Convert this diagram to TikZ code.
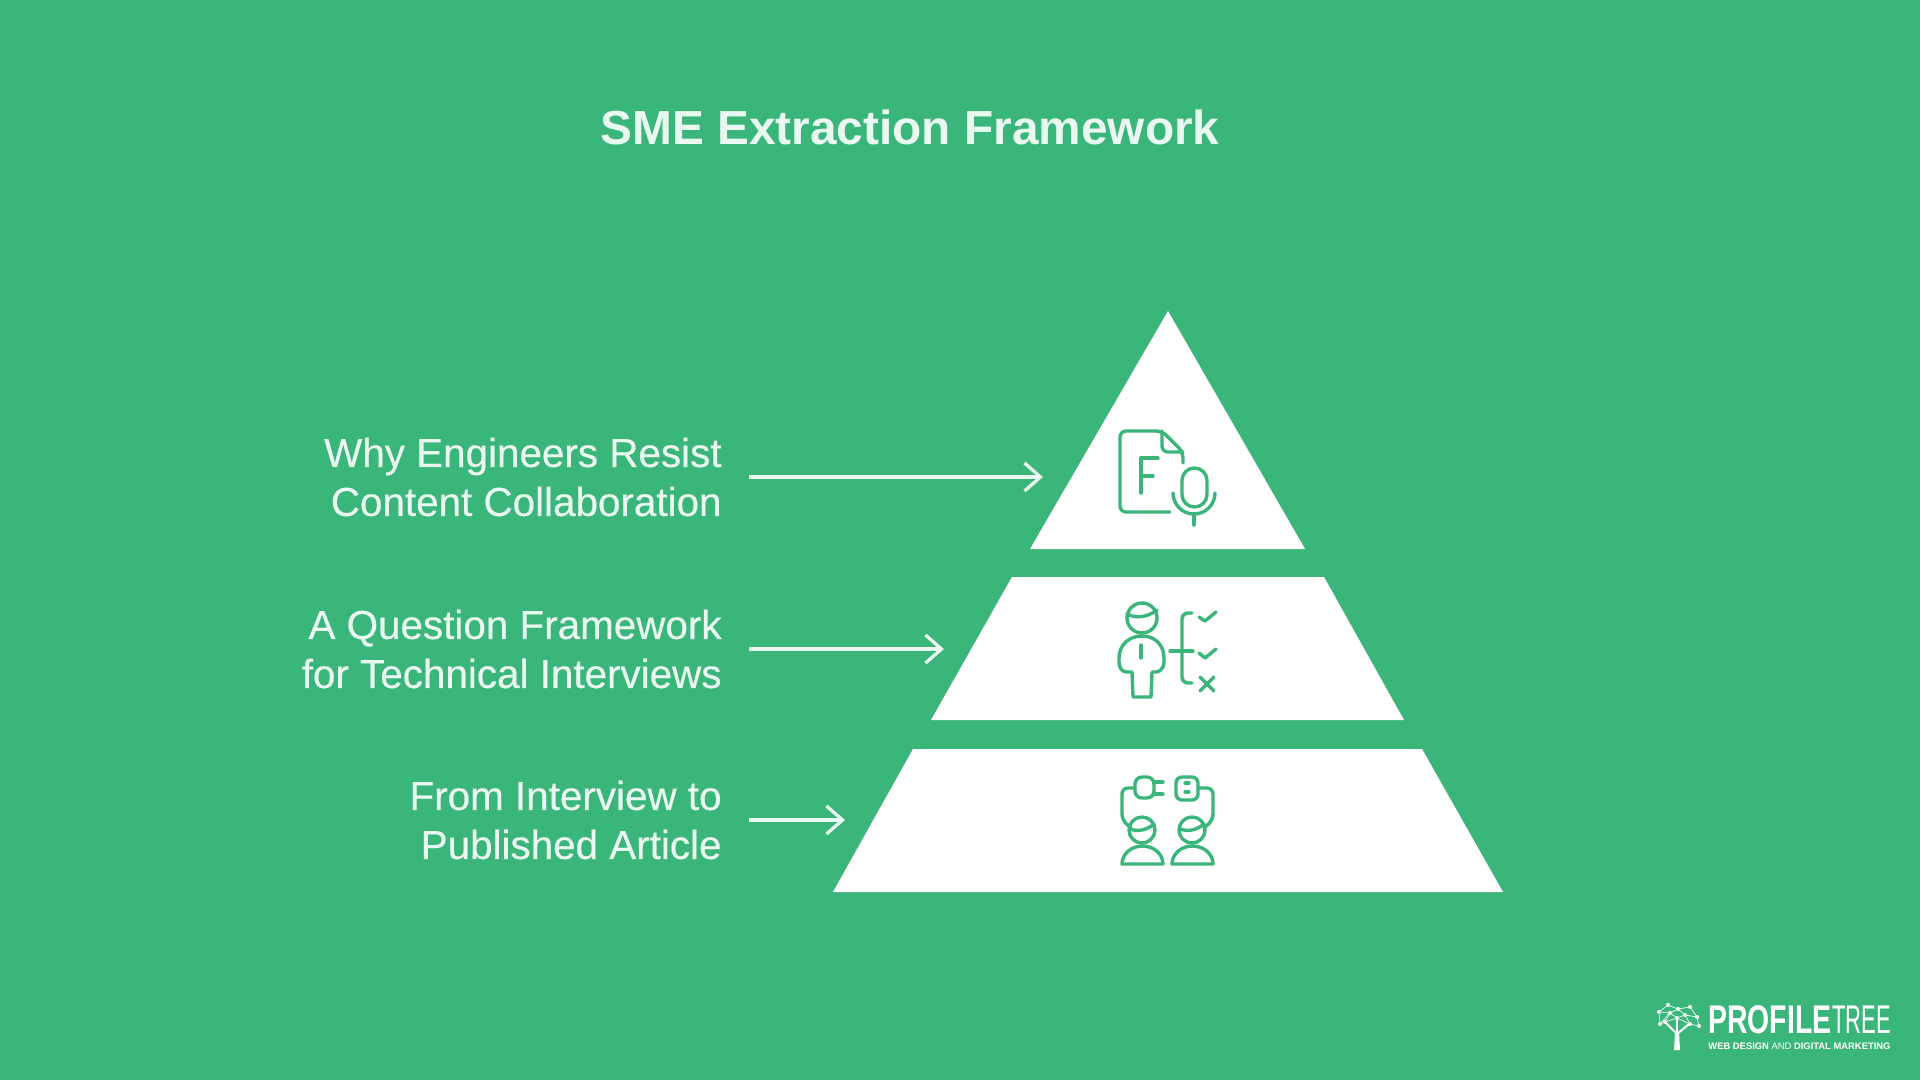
\documentclass[tikz,border=0pt]{standalone}
\usepackage{fontspec}
\usetikzlibrary{arrows.meta}
\setmainfont{Liberation Sans}
\newfontfamily\bodyfont[FakeBold=0.4]{Liberation Sans}
\newfontfamily\boldlogofont[FakeStretch=0.71]{Liberation Sans Bold}
\newfontfamily\thinlogofont[FakeStretch=0.55]{Liberation Sans}
\definecolor{leafgreen}{HTML}{3AB67A}
\definecolor{softwhite}{HTML}{E9F8F0}
\tikzset{
  tier/.style={fill=white},
  iconline/.style={draw=leafgreen,line width=1.7pt,line cap=round,line join=round,rounded corners=3pt},
  logoline/.style={draw=white!85!leafgreen,line width=.4pt},
  label/.style={text=softwhite,font=\bodyfont\fontsize{20.2}{24.5}\selectfont,align=right,anchor=east,inner xsep=13.5pt,inner ysep=0pt},
  pointer/.style={draw=softwhite,line width=1.65pt,-{Straight Barb[length=8pt,width=14pt,line width=1.65pt]}}
}
\begin{document}
\begin{tikzpicture}[x=0.5pt,y=-0.5pt]
\useasboundingbox (0,0) rectangle (1920,1080);
\fill[leafgreen] (0,0) rectangle (1920,1080);
\node[text=softwhite,font=\bfseries\fontsize{23.9}{30}\selectfont] (title) at (910,127) {SME Extraction Framework};
\fill[tier] (1168,311) -- (1305,549) -- (1030,549) -- cycle;
\fill[tier] (1012,577) -- (1324,577) -- (1404,720) -- (931,720) -- cycle;
\fill[tier] (913,749) -- (1422,749) -- (1503,892) -- (833,892) -- cycle;
\node[label] (why) at (749,477) {Why Engineers Resist\\Content Collaboration};
\node[label] (question) at (749,649) {A Question Framework\\for Technical Interviews};
\node[label] (from) at (749,820) {From Interview to\\Published Article};
\coordinate (whyend) at (1043,477);
\coordinate (questionend) at (944,649);
\coordinate (fromend) at (845,820);
\draw[pointer] (why) -- (whyend);
\draw[pointer] (question) -- (questionend);
\draw[pointer] (from) -- (fromend);
\draw[iconline] (1170,512) -- (1120,512) -- (1120,431) -- (1162,431) -- (1183,452) -- (1183,463);
\draw[iconline] (1162,431) -- (1162,452) -- (1183,452);
\draw[iconline,rounded corners=0pt] (1158,458) -- (1141,458) -- (1141,493);
\draw[iconline] (1141,476) -- (1153,476);
\draw[iconline,rounded corners=6.25pt] (1182,468) rectangle (1207,507);
\draw[iconline,rounded corners=0pt] (1173,493) arc (180:0:21);
\draw[iconline] (1194,514) -- (1194,525);
\draw[iconline] (1142,618) circle [radius=15];
\draw[iconline] (1127,614) .. controls (1136,619) and (1148,617) .. (1157,610);
\draw[iconline,rounded corners=0pt] (1133,697) -- (1132,672) -- (1127,672) .. controls (1122,672) and (1119,668) .. (1119,662) -- (1119,658) .. controls (1119,645) and (1129,636) .. (1142,636) .. controls (1155,636) and (1164,645) .. (1164,658) -- (1164,662) .. controls (1164,668) and (1160,672) .. (1156,672) -- (1152,672) -- (1151,697) -- cycle;
\draw[iconline] (1141,645) -- (1141,658);
\draw[iconline] (1192,613) -- (1182,613) -- (1182,683) -- (1192,683);
\draw[iconline] (1170,651) -- (1193,651);
\draw[iconline,rounded corners=0pt] (1199,617) -- (1205,621) -- (1216,612);
\draw[iconline,rounded corners=0pt] (1199,653) -- (1205,658) -- (1216,649);
\draw[iconline] (1200,677) -- (1214,691);
\draw[iconline] (1214,677) -- (1200,691);
\draw[iconline,rounded corners=3.5pt] (1135,777) rectangle (1154,798);
\draw[iconline] (1155,782) -- (1163,782);
\draw[iconline] (1155,794) -- (1163,794);
\draw[iconline] (1135,788) -- (1122,788) -- (1122,820) -- (1131,828);
\draw[iconline] (1142,830) circle [radius=13];
\draw[iconline] (1130,829) .. controls (1138,832) and (1147,830) .. (1154,824);
\draw[iconline,rounded corners=0pt] (1122,864) arc (180:360:20.5 and 18) -- cycle;
\draw[iconline] (1176,777) rectangle (1198,800);
\draw[iconline] (1185,783) -- (1189,783);
\draw[iconline] (1185,792) -- (1189,792);
\draw[iconline] (1198,788) -- (1213,788) -- (1213,820) -- (1204,828);
\draw[iconline] (1192,830) circle [radius=13];
\draw[iconline] (1180,829) .. controls (1188,832) and (1197,830) .. (1204,824);
\draw[iconline,rounded corners=0pt] (1172,864) arc (180:360:20.5 and 18) -- cycle;
\fill[white] (1675,1032) -- (1679,1032) -- (1680,1050) -- (1674,1050) -- cycle;
\draw[white,line width=1pt] (1677,1034) -- (1665,1022);
\draw[white,line width=1pt] (1677,1034) -- (1689,1024);
\draw[white,line width=1pt] (1677,1034) -- (1677,1018);
\foreach \a/\b in {1659/1012,1668/1005,1678/1009,1690/1007,1697/1017,1699/1026,1690/1024,1665/1022,1677/1018,1660/1024,1670/1013,1685/1015}
  \fill[white] (\a,\b) circle [radius=2];
\draw[logoline] (1659,1012) -- (1668,1005) -- (1678,1009) -- (1690,1007) -- (1697,1017) -- (1699,1026) -- (1690,1024) -- (1685,1015) -- (1678,1009) -- (1670,1013) -- (1659,1012) -- (1660,1024) -- (1670,1013) -- (1677,1018) -- (1685,1015) -- (1697,1017);
\draw[logoline] (1665,1022) -- (1670,1013);
\draw[logoline] (1660,1024) -- (1665,1022) -- (1677,1018) -- (1690,1024);
\node[text=white,anchor=base west,inner sep=0pt,font=\boldlogofont\fontsize{20}{20}\selectfont] (profile) at (1708,1033) {PROFILE};
\node[text=white,anchor=base west,inner sep=0pt,font=\thinlogofont\fontsize{20}{20}\selectfont] (treeword) at (profile.base east) {TREE};
\node[text=white,anchor=base west,inner sep=0pt,font=\bfseries\fontsize{4.7}{6}\selectfont] (tagline) at (1708,1049) {WEB DESIGN \textmd{AND} DIGITAL MARKETING};
\end{tikzpicture}
\end{document}
